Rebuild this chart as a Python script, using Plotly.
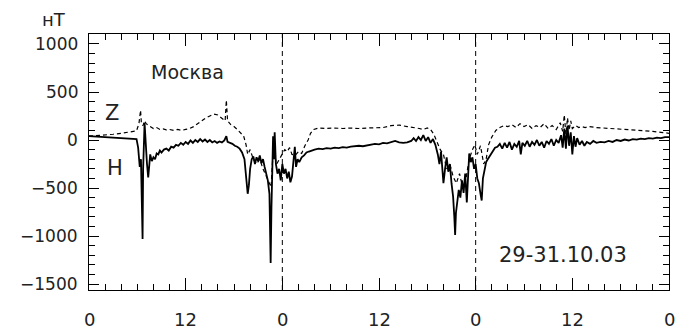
import plotly.graph_objects as go

# hours since 29.10.03 00:00
h_time = [0.0, 1.0, 2.0, 3.0, 4.0, 5.0, 5.5, 5.9, 6.1, 6.3, 6.45, 6.55, 6.65, 6.72, 6.8, 6.9, 6.95, 7.05,
          7.2, 7.35, 7.45, 7.6, 7.8, 8.0, 8.2, 8.4, 8.6, 8.8, 9.0, 9.3, 9.6, 9.9, 10.2, 10.5, 10.8, 11.1,
          11.4, 11.7, 12.0, 12.3, 12.6, 12.9, 13.2, 13.5, 13.8, 14.1, 14.4, 14.7, 15.0, 15.3, 15.6, 15.9,
          16.2, 16.5, 16.8, 17.05, 17.2, 17.5, 17.8, 18.1, 18.4, 18.7, 19.0, 19.3, 19.5, 19.7, 19.85, 20.0,
          20.2, 20.4, 20.6, 20.8, 21.0, 21.2, 21.4, 21.6, 21.8, 22.0, 22.2, 22.4, 22.55, 22.65, 22.75, 22.85,
          22.95, 23.05, 23.2, 23.4, 23.6, 23.8, 24.0, 24.2, 24.4, 24.6, 24.8, 25.0, 25.2, 25.4, 25.55, 25.7,
          25.9, 26.1, 26.4, 26.7, 27.0, 27.3, 27.6, 28.0, 28.5, 29.0, 29.5, 30.0, 30.5, 31.0, 31.5, 32.0,
          32.5, 33.0, 33.5, 34.0, 34.5, 35.0, 35.5, 36.0, 36.5, 37.0, 37.5, 38.0, 38.5, 39.0, 39.5, 40.0,
          40.3, 40.6, 40.9, 41.2, 41.5, 41.8, 42.1, 42.4, 42.7, 43.0, 43.3, 43.5, 43.7, 43.9, 44.0, 44.2,
          44.4, 44.6, 44.8, 45.0, 45.2, 45.35, 45.45, 45.55, 45.7, 45.9, 46.1, 46.3, 46.5, 46.7, 46.9, 47.05,
          47.2, 47.4, 47.6, 47.8, 48.0, 48.2, 48.4, 48.6, 48.75, 48.9, 49.1, 49.3, 49.5, 49.8, 50.1, 50.4,
          50.7, 51.0, 51.3, 51.6, 51.9, 52.2, 52.5, 52.8, 53.1, 53.4, 53.6, 53.8, 54.1, 54.4, 54.7, 55.0,
          55.3, 55.6, 55.9, 56.2, 56.5, 56.8, 57.1, 57.4, 57.7, 58.0, 58.3, 58.6, 58.8, 59.0, 59.2, 59.4,
          59.6, 59.8, 60.0, 60.2, 60.4, 60.6, 60.9, 61.2, 61.5, 61.8, 62.2, 62.6, 63.0, 63.5, 64.0, 64.5,
          65.0, 65.5, 66.0, 66.5, 67.0, 67.5, 68.0, 68.5, 69.0, 69.5, 70.0, 70.5, 71.0, 71.5, 72.0]
h_vals = [40, 35, 30, 20, 15, 10, 5, 10, -80, -280, -200, -600, -1030, -300, -150, 180, 100, -100,
          -250, -390, -250, -150, -220, -180, -200, -140, -150, -110, -130, -100, -90, -110, -70, -80, -50, -60,
          -30, -50, -20, -40, -5, -30, 0, -20, 10, -15, 5, -20, 0, -25, -10, -30,
          -15, -25, -5, 40, -20, -30, -40, -60, -70, -90, -130, -200, -380, -560, -470, -300,
          -200, -170, -250, -180, -220, -160, -240, -200, -280, -350, -420, -560, -1280, -700, -300, 40,
          -200, 80, -250, -350, -300, -420, -250, -350, -300, -400, -330, -440, -380, -200, -70, -280,
          -200, -230, -180, -160, -130, -120, -110, -100, -90, -95, -85, -90, -80, -85, -75, -80,
          -70, -65, -60, -65, -55, -50, -40, -45, -30, -35, -20, -10, -25, -30, -25, -10,
          20, -10, 30, 0, 50, -10, 30, -30, 10, -50, -150, -250, -120, -400, -450, -300,
          -180, -330, -250, -450, -590, -800, -990, -760, -650, -520, -600, -420, -550, -350, -650, -300,
          -140, -230, -180, -300, -250, -400, -450, -560, -630, -400, -300, -230, -200, -160, -110, -80,
          -70, -40, -90, -30, -80, -20, -100, -40, -70, -10, -150, -30, -60, -10, -70, -20,
          -50, 0, -60, -20, -80, -10, -40, 10, -60, 0, -30, 50, -80, 120, -90, 150,
          -60, 80, -150, 40, -70, 20, -50, -10, -60, -20, -40, -10, -30, -20, -25, -10,
          -20, 0, -10, 5, -5, 10, 5, 15, 10, 20, 15, 25, 20, 30, 30]

z_time = [0, 1, 2, 3, 4, 5, 5.9, 6.2, 6.4, 6.5, 6.7, 6.9, 7.1, 7.4, 7.7, 8.0, 8.4, 8.8, 9.2, 9.6, 10.0,
          10.5, 11.0, 11.5, 12.0, 12.5, 13.0, 13.5, 14.0, 14.5, 15.0, 15.5, 16.0, 16.5, 16.9, 17.05, 17.2,
          17.6, 18.0, 18.4, 18.8, 19.2, 19.5, 19.7, 20.0, 20.4, 20.8, 21.2, 21.6, 22.0, 22.3, 22.6, 22.8,
          23.0, 23.3, 23.6, 24.0, 24.3, 24.6, 24.9, 25.2, 25.6, 26.0, 26.4, 26.8, 27.2, 27.5, 27.9, 28.5,
          29.5, 30.5, 31.5, 32.5, 33.5, 34.5, 35.5, 36.5, 37.5, 38.5, 39.5, 40.5, 41.0, 41.5, 42.0, 42.4,
          42.8, 43.2, 43.6, 44.0, 44.4, 44.8, 45.2, 45.6, 46.0, 46.4, 46.8, 47.2, 47.6, 47.9, 48.2, 48.6,
          49.0, 49.3, 49.6, 50.0, 50.5, 51.0, 51.5, 52.0, 52.5, 53.0, 53.5, 54.0, 54.5, 55.0, 55.5, 56.0,
          56.5, 57.0, 57.5, 58.0, 58.5, 58.8, 59.0, 59.2, 59.4, 59.6, 59.8, 60.0, 60.4, 60.8, 61.2, 61.6,
          62.0, 63.0, 64.0, 65.0, 66.0, 67.0, 68.0, 69.0, 70.0, 71.0, 72.0]
z_vals = [40, 45, 50, 60, 70, 80, 95, 170, 310, 180, 150, 200, 170, 150, 130, 120, 130, 110, 115, 105, 110,
          100, 110, 100, 110, 120, 140, 170, 200, 230, 250, 270, 260, 230, 200, 415, 200,
          160, 140, 110, 80, 40, -50, -150, -100, -200, -250, -200, -300, -380, -420, -490, -200,
          -150, -250, -200, -150, -100, -120, -80, -150, -160, -120, -140, -60, 0, 70, 110, 125,
          120, 125, 120, 125, 120, 125, 130, 130, 150, 155, 140, 130, 120, 110, 125, 110,
          60, -20, -100, -150, -300, -250, -380, -450, -350, -500, -400, -200, -100, -50, -150, -60,
          -250, -200, -50, 30, 100, 130, 150, 140, 160, 130, 170, 140, 160, 120, 150, 130,
          170, 120, 150, 110, 180, 90, 260, 60, 230, 100, 200, 120, 150, 130, 140, 130,
          140, 130, 125, 120, 115, 110, 105, 100, 90, 80, 70]

x_ticks = [0, 12, 24, 36, 48, 60, 72]
x_tick_text = ["0", "12", "0", "12", "0", "12", "0"]
y_ticks = [-1500, -1000, -500, 0, 500, 1000]
y_tick_text = ["\u22121500", "\u22121000", "\u2212500", "0", "500", "1000"]
day_breaks = [24, 48]

fig = go.Figure()
fig.add_trace(go.Scatter(x=z_time, y=z_vals, mode="lines",
                         line=dict(color="black", width=1.2, dash="4px,3px"), name="Z"))
fig.add_trace(go.Scatter(x=h_time, y=h_vals, mode="lines",
                         line=dict(color="black", width=1.8), name="H"))

for d in day_breaks:
    fig.add_shape(type="line", x0=d, x1=d, y0=0, y1=1, xref="x", yref="paper",
                  line=dict(color="black", width=1, dash="5px,4px"))

fig.update_layout(
    width=675, height=335,
    margin=dict(l=89, r=6, t=34, b=45, autoexpand=False),
    paper_bgcolor="white", plot_bgcolor="white",
    showlegend=False,
    font=dict(family="DejaVu Sans", color="#222", size=17),
)
fig.update_xaxes(range=[0, 72], tickvals=x_ticks, showticklabels=False, automargin=False,
                 ticks="inside", ticklen=12, tickcolor="black",
                 showline=True, linecolor="black", mirror="allticks",
                 showgrid=False, zeroline=False,
                 minor=dict(dtick=2, ticks="inside", ticklen=6, tickcolor="black"))
fig.update_yaxes(range=[-1562, 1104], tickvals=y_ticks, showticklabels=False, automargin=False,
                 ticks="inside", ticklen=10, tickcolor="black",
                 showline=True, linecolor="black", mirror="allticks",
                 showgrid=False, zeroline=False,
                 minor=dict(dtick=100, ticks="inside", ticklen=6, tickcolor="black"))

# x tick labels (hours of day) under the axis at their tick positions
for xv, txt in zip(x_ticks, x_tick_text):
    fig.add_annotation(x=xv, y=-0.117, xref="x", yref="paper", text=txt, showarrow=False,
                       font=dict(size=18), xanchor="center", yanchor="middle")
# y tick labels, right-aligned a little left of the axis
for yv, txt in zip(y_ticks, y_tick_text):
    fig.add_annotation(x=-0.0155, y=yv, xref="paper", yref="y", text=txt, showarrow=False,
                       font=dict(size=17), xanchor="right", yanchor="middle")

fig.add_annotation(x=-0.06, y=1.055, xref="paper", yref="paper", text="нТ", showarrow=False,
                   font=dict(size=18), xanchor="center", yanchor="middle")
fig.add_annotation(x=12.2, y=708, xref="x", yref="y", text="Москва", showarrow=False,
                   font=dict(size=19))
fig.add_annotation(x=2.85, y=281, xref="x", yref="y", text="Z", showarrow=False,
                   font=dict(size=21))
fig.add_annotation(x=3.2, y=-292, xref="x", yref="y", text="H", showarrow=False,
                   font=dict(size=21))
fig.add_annotation(x=58.8, y=-1198, xref="x", yref="y", text="29-31.10.03", showarrow=False,
                   font=dict(size=21))

fig.write_html("out.html")
